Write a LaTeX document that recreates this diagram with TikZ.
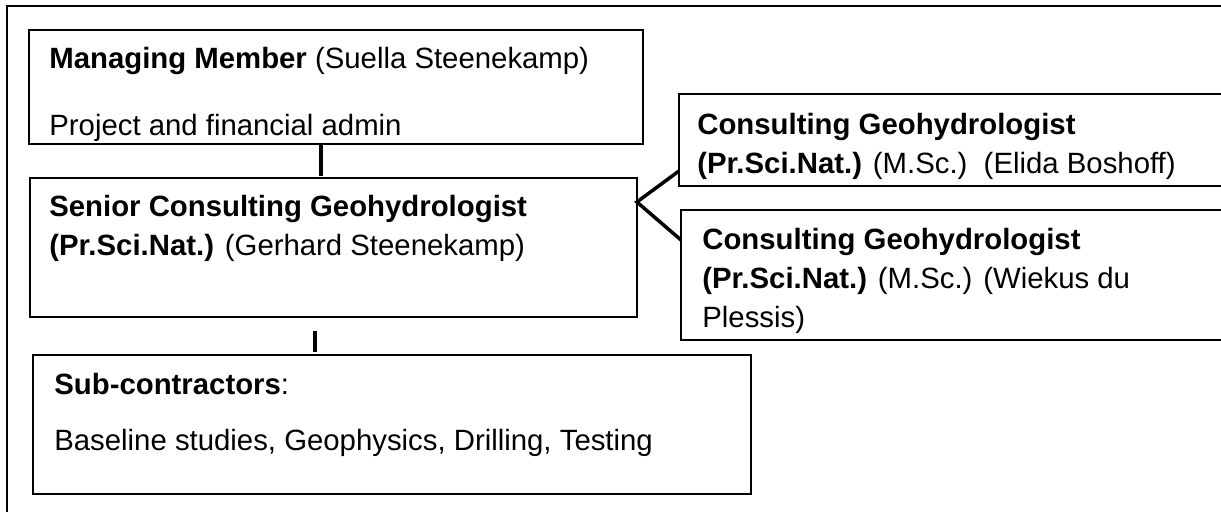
\documentclass[tikz,border=0pt]{standalone}
\usepackage{fontspec}
\setmainfont{Liberation Sans}
\begin{document}
\begin{tikzpicture}[x=0.02cm,y=-0.02cm,
		box/.style={draw,line width=0.04cm,outer sep=0,inner sep=0,anchor=north west},
		txt/.style={anchor=north west,inner sep=0,align=left,font=\fontsize{16.7pt}{22.2pt}\selectfont},
		link/.style={line width=0.07cm}]
		\useasboundingbox (0,0) rectangle (1221,511);
		\clip (0,0) rectangle (1221,511);
		% khung ngoài
		\draw[line width=0.04cm] (7,540) |- (1250,6);
		% các ô
		\node[box,minimum width=12.28cm,minimum height=2.28cm] (mm) at (29,30) {};
		\node[box,minimum width=12.14cm,minimum height=2.78cm] (senior) at (30,178) {};
		\node[box,minimum width=14.36cm,minimum height=2.78cm] (sub) at (33,355) {};
		\node[box,minimum width=12cm,minimum height=1.84cm] (cg1) at (679,94) {};
		\node[box,minimum width=12cm,minimum height=2.6cm] (cg2) at (681,210) {};
		% chữ trong các ô
		\node[txt] (mmtext) at (49,40.7) {\strut\textbf{Managing Member} (Suella Steenekamp)\\[0.56cm]Project and financial admin};
		\node[txt] (seniortext) at (49,188.7) {\strut\textbf{Senior Consulting Geohydrologist}\\\textbf{(Pr.Sci.Nat.)} (Gerhard Steenekamp)};
		\node[txt] (subtext) at (54,366.7) {\strut\textbf{Sub-contractors}:\\[0.34cm]Baseline studies, Geophysics, Drilling, Testing};
		\node[txt] (cg1text) at (697,106.7) {\strut\textbf{Consulting Geohydrologist}\\\textbf{(Pr.Sci.Nat.)} (M.Sc.)\ \ (Elida Boshoff)};
		\node[txt] (cg2text) at (702,221.7) {\strut\textbf{Consulting Geohydrologist}\\\textbf{(Pr.Sci.Nat.)} (M.Sc.) (Wiekus du\\Plessis)};
		% đường nối
		\draw[link,shorten >=0.04cm] ([xshift=-0.3cm]mm.south) -- ([xshift=-0.3cm]mm.south |- senior.north);
		\draw[link] ([yshift=0.3cm]cg1.south west) -- ([yshift=-0.48cm]senior.north east) -- ([yshift=-0.6cm]cg2.north west);
		\draw[link,shorten >=0.06cm] ([xshift=-0.37cm,yshift=-0.28cm]senior.south) coordinate (s1) -- (s1 |- sub.north);
\end{tikzpicture}
\end{document}
